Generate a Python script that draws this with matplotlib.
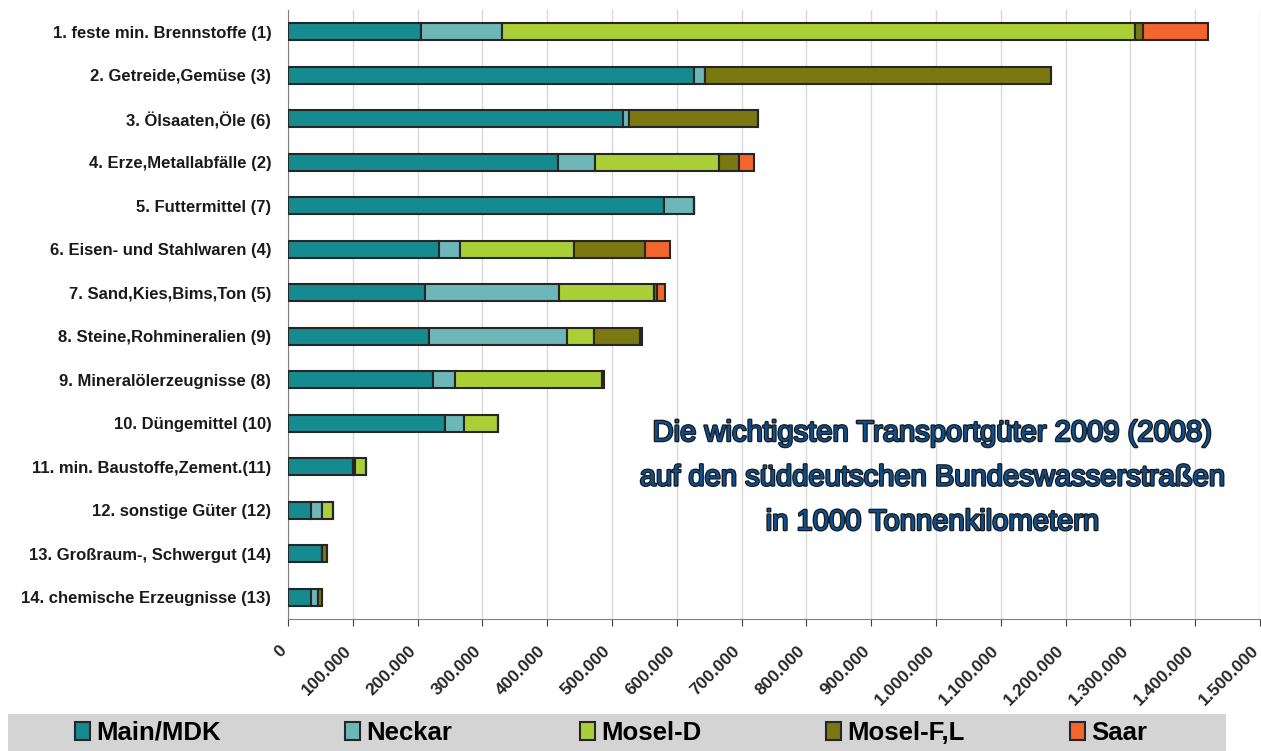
from matplotlib import pyplot as plt
from matplotlib.patches import Rectangle
from matplotlib.ticker import FuncFormatter
from matplotlib.transforms import ScaledTranslation
import matplotlib.patheffects as pe
import numpy as np

plt.rcParams['font.family'] = ['Liberation Sans', 'DejaVu Sans']

# Goods categories (top to bottom)
categories = [
    "1. feste min. Brennstoffe (1)",
    "2. Getreide,Gemüse (3)",
    "3. Ölsaaten,Öle (6)",
    "4. Erze,Metallabfälle (2)",
    "5. Futtermittel (7)",
    "6. Eisen- und Stahlwaren (4)",
    "7. Sand,Kies,Bims,Ton (5)",
    "8. Steine,Rohmineralien (9)",
    "9. Mineralölerzeugnisse (8)",
    "10. Düngemittel (10)",
    "11. min. Baustoffe,Zement.(11)",
    "12. sonstige Güter (12)",
    "13. Großraum-, Schwergut (14)",
    "14. chemische Erzeugnisse (13)",
]

# Transport performance in 1000 tkm per waterway
main_mdk = [205000, 627000, 517000, 416000, 580000, 233000, 211000, 218000, 224000, 243000, 100000, 35000, 52000, 35000]
neckar   = [126000, 17000, 9000, 57000, 46000, 32000, 207000, 213000, 34000, 28000, 3000, 18000, 0, 12000]
mosel_d  = [976000, 0, 0, 192000, 0, 176000, 147000, 41000, 226000, 53000, 18000, 17000, 0, 0]
mosel_fl = [13000, 534000, 199000, 31000, 0, 110000, 4000, 71000, 2000, 0, 0, 0, 8000, 5000]
saar     = [100000, 0, 0, 23000, 0, 38000, 13000, 3000, 2000, 0, 0, 0, 0, 0]

series_names = ["Main/MDK", "Neckar", "Mosel-D", "Mosel-F,L", "Saar"]
series_colors = ["#158a8f", "#6db7b8", "#abcf37", "#7a7810", "#f2652d"]

title_lines = [
    "Die wichtigsten Transportgüter 2009 (2008)",
    "auf den süddeutschen Bundeswasserstraßen",
    "in 1000 Tonnenkilometern",
]

W, H = 1261, 751
fig = plt.figure(figsize=(W / 100, H / 100), dpi=100)
ax = fig.add_axes([288 / W, 132 / H, 972 / W, 609 / H])

y = np.arange(len(categories))
left = np.zeros(len(categories))
bars = []
for name, vals, col in zip(series_names, [main_mdk, neckar, mosel_d, mosel_fl, saar], series_colors):
    vals = np.array(vals, dtype=float)
    b = ax.barh(y, vals, left=left, height=0.39, color=col,
                edgecolor="#262626", linewidth=1.5, label=name, zorder=3)
    bars.append(b)
    left += vals

ax.set_ylim(len(categories) - 0.5, -0.5)
ax.set_xlim(0, 1500000)
ax.set_xticks(np.arange(0, 1500001, 100000))
ax.xaxis.set_major_formatter(FuncFormatter(lambda v, p: f"{int(v):,}".replace(",", ".")))
ax.set_yticks(y)
ax.set_yticklabels(categories, fontsize=12, fontweight="bold", color="#1a1a1a")
ax.tick_params(axis="y", length=0, pad=12)
ax.tick_params(axis="x", length=5, color="#404040", pad=16)
shift = ScaledTranslation(-4 / 100, 0, fig.dpi_scale_trans)
for lbl in ax.get_xticklabels():
    lbl.set_rotation(45)
    lbl.set_ha("right")
    lbl.set_va("center")
    lbl.set_rotation_mode("anchor")
    lbl.set_fontsize(12.5)
    lbl.set_fontweight("bold")
    lbl.set_color("#262626")
    lbl.set_transform(lbl.get_transform() + shift)

ax.grid(axis="x", color="#d9d9d9", linewidth=1, zorder=0)
for s in ["top", "right"]:
    ax.spines[s].set_visible(False)
ax.spines["left"].set_color("#808080")
ax.spines["bottom"].set_color("#808080")

# Title block inside the plot
for i, line in enumerate(title_lines):
    fig.text(932 / W, 1 - (433 + i * 44.5) / H, line,
             ha="center", va="center", fontsize=21,
             color="#0c4f8f",
             path_effects=[pe.withStroke(linewidth=1.8, foreground="#1a1a1a")])

# Grey legend band with one entry per waterway
fig.patches.append(Rectangle((8 / W, 0), 1218 / W, 37 / H,
                             transform=fig.transFigure, facecolor="#d4d4d4",
                             edgecolor="none", zorder=0))
legend_x = [75, 345, 580, 826, 1070]
for b, name, x in zip(bars, series_names, legend_x):
    fig.legend(handles=[b], labels=[name], loc="center left",
               bbox_to_anchor=(x / W, 18 / H), frameon=False,
               borderpad=0, borderaxespad=0,
               handlelength=0.58, handleheight=0.74, handletextpad=0.25,
               prop={"size": 18.5, "weight": "bold"})

fig.savefig("out.png", dpi=100)
